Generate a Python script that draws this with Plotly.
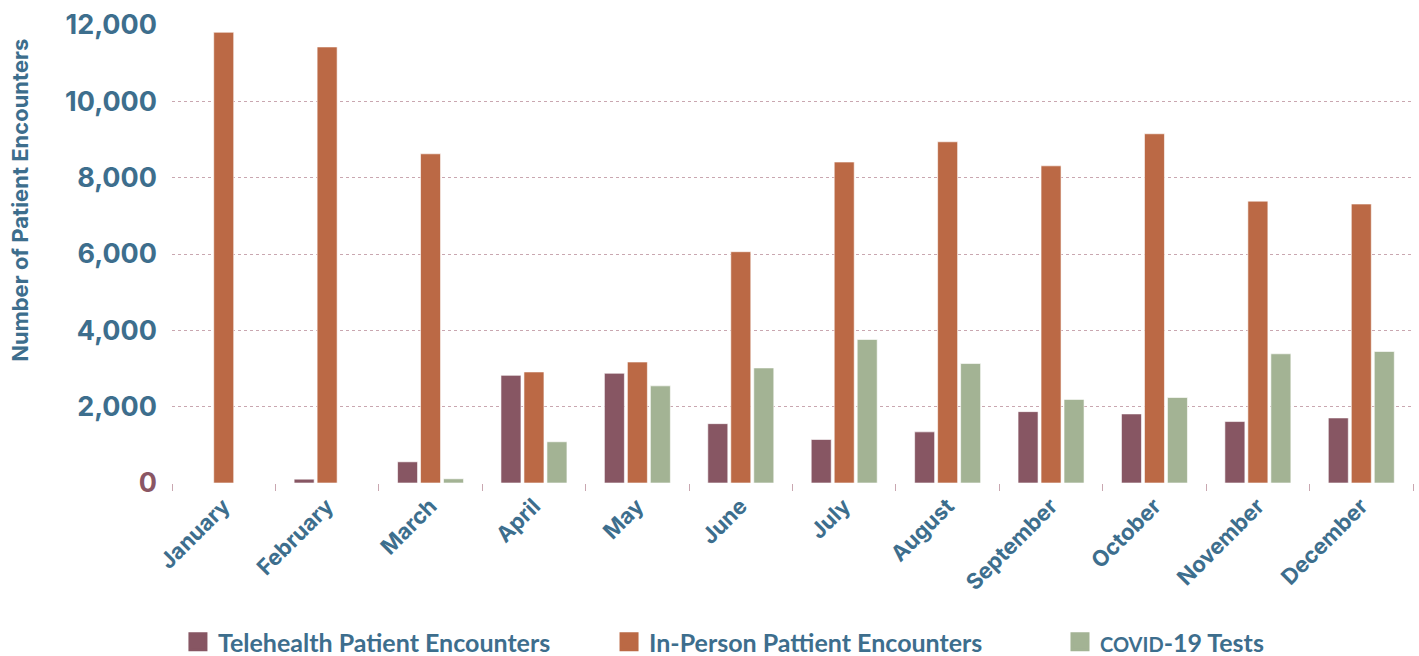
import plotly.graph_objects as go

months = ["January", "February", "March", "April", "May", "June", "July",
          "August", "September", "October", "November", "December"]
telehealth = [0, 100, 555, 2820, 2875, 1555, 1140, 1340, 1870, 1810, 1610, 1705]
in_person = [11810, 11425, 8625, 2910, 3170, 6060, 8410, 8940, 8310, 9150, 7385, 7310]
covid_tests = [0, 0, 110, 1080, 2545, 3015, 3760, 3130, 2190, 2240, 3385, 3445]

y_ticks = [0, 2000, 4000, 6000, 8000, 10000, 12000]
y_tick_text = ["<span style='color:#8a5664'>0</span>", "2,000", "4,000", "6,000",
               "8,000", "10,000", "12,000"]

TEXT = "#3d6e8d"
GRID = "#c9a7b0"
AXIS_FONT = "Inter"
LEGEND_FONT = "Lato"

series = [
    ("Telehealth Patient Encounters", telehealth, "#875663", "legend", 0.1254),
    ("In-Person Pattient Encounters", in_person, "#bb6945", "legend2", 0.4292),
    ("<span style='font-size:20px'>COVID</span>-19 Tests", covid_tests, "#a3b394", "legend3", 0.747),
]

fig = go.Figure()
for name, vals, color, leg, _ in series:
    fig.add_trace(go.Bar(
        x=months, y=vals, name=name, showlegend=False,
        marker=dict(color=color, line=dict(color="rgba(255,255,255,0.6)", width=1)),
    ))
# legend entries drawn as large square swatches
for name, vals, color, leg, _ in series:
    fig.add_trace(go.Scatter(
        x=[None], y=[None], mode="markers", name=name, legend=leg,
        marker=dict(symbol="square", size=16, color=color,
                    line=dict(color=color, width=3)),
    ))

legend_style = dict(
    orientation="h", xref="container", yref="container",
    yanchor="middle", xanchor="left", y=1 - 642 / 656,
    font=dict(family=LEGEND_FONT, size=25, color=TEXT, weight="bold"),
    bgcolor="rgba(0,0,0,0)", itemsizing="trace",
)
legends = {}
for _, _, _, leg, lx in series:
    legends[leg] = dict(x=lx, visible=True, **legend_style)

fig.update_layout(
    width=1419, height=656,
    margin=dict(l=172, r=6, t=25, b=172.5),
    paper_bgcolor="white", plot_bgcolor="white",
    barmode="group", bargap=0.333, bargroupgap=0.13,
    showlegend=True,
    font=dict(family=AXIS_FONT, color=TEXT),
    xaxis=dict(
        tickangle=-45,
        tickfont=dict(family=AXIS_FONT, size=22, color=TEXT, weight="bold"),
        ticks="outside", tickson="boundaries", ticklen=7, tickcolor=GRID, tickwidth=1,
        ticklabelstandoff=5,
        showline=False, showgrid=False,
    ),
    yaxis=dict(
        range=[0, 12000],
        tickvals=y_ticks, ticktext=y_tick_text,
        tickfont=dict(family=AXIS_FONT, size=27, color=TEXT, weight="bold"),
        ticklabelstandoff=14,
        showgrid=True, gridcolor=GRID, griddash="dot", gridwidth=1,
        zeroline=False, showline=False,
    ),
    annotations=[dict(
        text="Number of Patient Encounters", textangle=-90,
        xref="paper", yref="paper", x=(20 - 172) / 1241, y=(483.5 - 201) / 458.5,
        xanchor="center", yanchor="middle", showarrow=False,
        font=dict(family=AXIS_FONT, size=22, color=TEXT, weight="bold"),
    )],
    **legends,
)

fig.write_html("out.html")
